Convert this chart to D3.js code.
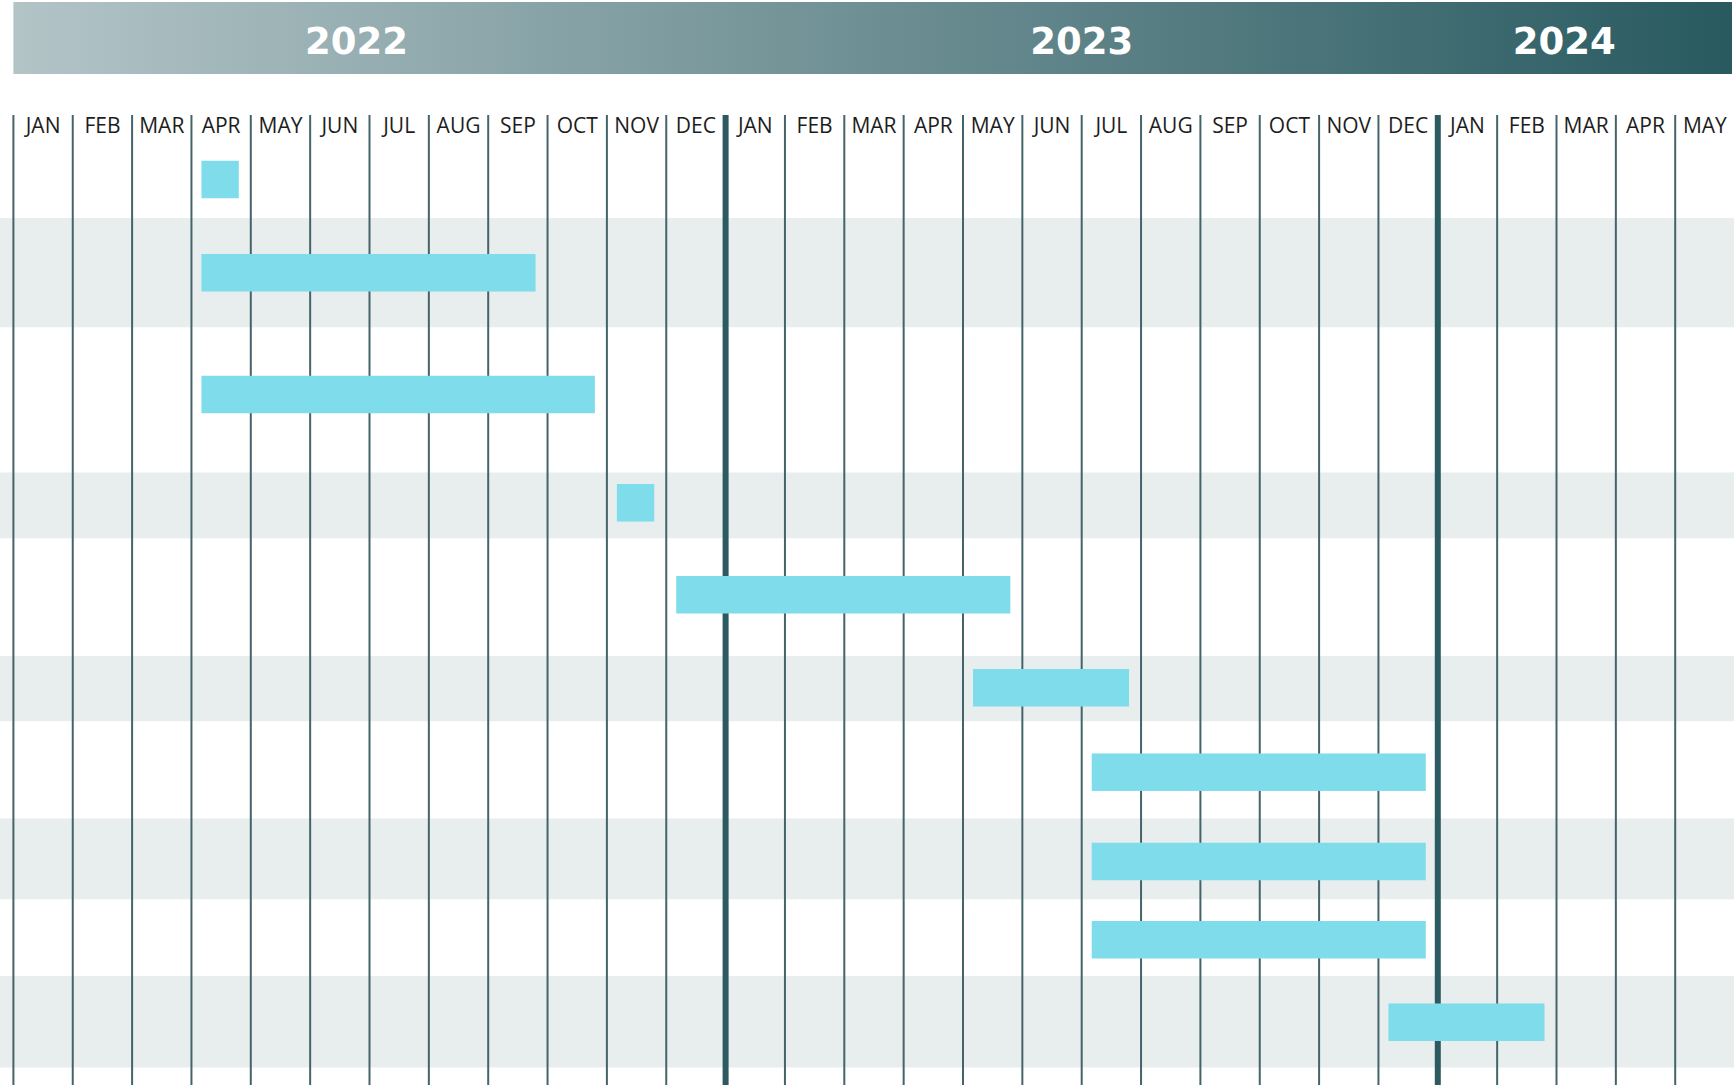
<!DOCTYPE html>
<html>
<head>
<meta charset="utf-8">
<script src="https://cdn.jsdelivr.net/npm/d3@7"></script>
<style>
    body { margin: 0; background: #fff; }
    svg { display: block; }
</style>
</head>
<body>
<div id="chart"></div>
<script>
// Data
var tasks = ["T1", "T2", "T3", "T4", "T5", "T6", "T7", "T8", "T9", "T10"];
var startMonths = ["2022-04", "2022-04", "2022-04", "2022-11", "2022-12", "2023-05", "2023-07", "2023-07", "2023-07", "2023-12"];
var endMonths = ["2022-04", "2022-09", "2022-10", "2022-11", "2023-05", "2023-07", "2023-12", "2023-12", "2023-12", "2024-02"];
var monthLabels = ["JAN", "FEB", "MAR", "APR", "MAY", "JUN", "JUL", "AUG", "SEP", "OCT", "NOV", "DEC"];
var years = ["2022", "2023", "2024"];
var firstMonth = "2022-01",
    lastMonth = "2024-05";

// Layout
var width = 1734,
    height = 1085,
    colWidth = 59.35,
    left = 13.4,
    rowTop = 141,
    rowHeights = [77, 109.5, 145, 66, 117.5, 65.5, 97, 81, 76.5, 91.5],
    barShift = [0, 0, -5.5, -2.7, -2.5, -1, 2.2, 2.5, 2, 0.5],
    barHeight = 37.5,
    padStart = 10,
    padEnd = 12,
    yearNudge = { "2022": -13, "2023": 0, "2024": -22 };

var parse = d3.timeParse("%Y-%m"),
    fmt = d3.timeFormat("%Y-%m");

var months = d3.timeMonth.range(parse(firstMonth), d3.timeMonth.offset(parse(lastMonth), 1)).map(fmt);

var svg = d3.select("#chart")
    .append("svg")
    .attr("width", width)
    .attr("height", height);

// X scale: one equal column per month
var x = d3.scaleBand()
    .domain(months)
    .range([left, left + colWidth * months.length])
    .padding(0);

// Y: rows of uneven height
var rowY = [];
var acc = rowTop;
rowHeights.forEach(function(h) {
    rowY.push({ y0: acc, y1: acc + h });
    acc += h;
});
var y = d3.scaleOrdinal().domain(tasks).range(rowY);

// Header gradient
var defs = svg.append("defs");
var grad = defs.append("linearGradient")
    .attr("id", "hdr")
    .attr("x1", "0%").attr("x2", "100%")
    .attr("y1", "0%").attr("y2", "0%");
grad.append("stop").attr("offset", "0%").attr("stop-color", "#b3c4c7");
grad.append("stop").attr("offset", "100%").attr("stop-color", "#285a60");

svg.append("rect")
    .attr("x", left)
    .attr("y", 2)
    .attr("width", 1732 - left)
    .attr("height", 72)
    .attr("fill", "url(#hdr)");

svg.selectAll("text.year")
    .data(years)
    .enter()
    .append("text")
    .attr("class", "year")
    .attr("x", function(d) {
        var ms = months.filter(function(m) { return m.slice(0, 4) == d; });
        var x0 = x(ms[0]),
            x1 = x(ms[ms.length - 1]) + x.bandwidth();
        return (x0 + x1) / 2 + yearNudge[d];
    })
    .attr("y", 54)
    .attr("text-anchor", "middle")
    .style("font-family", "DejaVu Sans")
    .style("font-weight", "bold")
    .style("font-size", "37px")
    .style("fill", "#fff")
    .text(function(d) { return d; });

// Row bands
svg.selectAll("rect.band")
    .data(tasks)
    .enter()
    .append("rect")
    .attr("class", "band")
    .attr("x", 0)
    .attr("width", width)
    .attr("y", function(d) { return y(d).y0; })
    .attr("height", function(d) { return y(d).y1 - y(d).y0; })
    .attr("fill", function(d, i) { return i % 2 == 1 ? "#e8edee" : "#fff"; });

// Month grid lines
svg.selectAll("line.grid")
    .data(months)
    .enter()
    .append("line")
    .attr("class", "grid")
    .attr("x1", function(d) { return x(d); })
    .attr("x2", function(d) { return x(d); })
    .attr("y1", 115)
    .attr("y2", height)
    .attr("stroke", function(d, i) { return (d.slice(5) == "01" && i > 0) ? "#2b5a60" : "#44646a"; })
    .attr("stroke-width", function(d, i) { return (d.slice(5) == "01" && i > 0) ? 6 : 2; });

// Month labels
var axis = svg.append("g")
    .attr("transform", "translate(0,133)")
    .call(d3.axisBottom(x).tickSize(0).tickFormat(function(d) {
        return monthLabels[+d.slice(5) - 1];
    }));
axis.select(".domain").remove();
axis.selectAll("text")
    .attr("y", 0)
    .attr("dy", 0)
    .style("font-family", "Open Sans")
    .style("font-size", "21px")
    .style("fill", "#1d1d1d");

// Bars
svg.selectAll("rect.bar")
    .data(tasks)
    .enter()
    .append("rect")
    .attr("class", "bar")
    .attr("x", function(d, i) { return x(startMonths[i]) + padStart; })
    .attr("width", function(d, i) {
        return x(endMonths[i]) + x.bandwidth() - padEnd - (x(startMonths[i]) + padStart);
    })
    .attr("y", function(d, i) { return (y(d).y0 + y(d).y1) / 2 - barHeight / 2 + barShift[i]; })
    .attr("height", barHeight)
    .attr("fill", "#7fdcea");
</script>
</body>
</html>
